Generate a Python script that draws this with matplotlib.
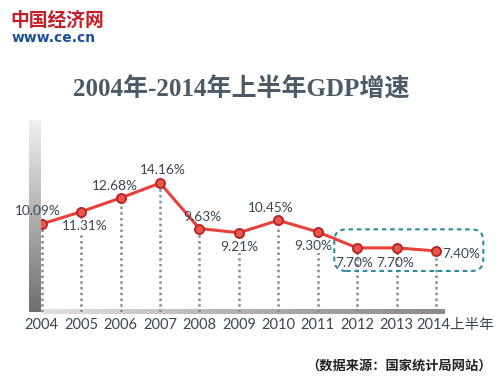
import numpy as np
import matplotlib
matplotlib.use("Agg")
import matplotlib.pyplot as plt
import matplotlib.transforms as mtrans
from matplotlib.patches import FancyBboxPatch
from matplotlib.colors import LinearSegmentedColormap

# ---- data ----
years = ["2004", "2005", "2006", "2007", "2008", "2009", "2010", "2011", "2012", "2013", "2014上半年"]
growth = [10.09, 11.31, 12.68, 14.16, 9.63, 9.21, 10.45, 9.30, 7.70, 7.70, 7.40]
value_labels = ["10.09%", "11.31%", "12.68%", "14.16%", "9.63%", "9.21%", "10.45%", "9.30%", "7.70%", "7.70%", "7.40%"]
title = "2004年-2014年上半年GDP增速"
source = "（数据来源：国家统计局网站）"

# ---- layout (pixel offsets for value labels) ----
label_offsets = [(-4, 13), (4, -14), (-6, 12), (3, 13), (3, 12), (0, -14),
                 (-7, 12), (-4, -14), (-3, -15), (-1, -15), (6, -3)]
label_ha = ["center"] * 10 + ["left"]
label_bg = [False, True, False, False, False, True, False, True, False, False, False]

W, H = 500, 380
fig = plt.figure(figsize=(W / 100, H / 100), dpi=100)
fig.patch.set_facecolor("white")

def fx(px):
    return px / W

def fy(py):
    return 1 - py / H

CJK = ["Lato", "Noto Sans CJK SC", "DejaVu Sans"]
TXT = "#3b4650"

# gradient bars (axis decoration), drawn beneath the plot
vax = fig.add_axes([fx(29), fy(312), fx(41) - fx(29), fy(120) - fy(312)])
vax.set_zorder(0)
grad_v = np.linspace(0, 1, 256).reshape(-1, 1)
cmap_v = LinearSegmentedColormap.from_list("v", ["#f0f0f0", "#b0b0b0", "#6e6e6e"])
vax.imshow(grad_v, aspect="auto", cmap=cmap_v, origin="upper")
vax.axis("off")

hax = fig.add_axes([fx(41), fy(314), fx(445) - fx(41), fy(309) - fy(314)])
hax.set_zorder(0)
grad_h = np.linspace(0, 1, 256).reshape(1, -1)
cmap_h = LinearSegmentedColormap.from_list("h", ["#e2e2e2", "#b0b0b0", "#8a8a8a"])
hax.imshow(grad_h, aspect="auto", cmap=cmap_h)
hax.axis("off")

# main axes: from x=41px to 490px, y from 120px to 312px
ax = fig.add_axes([fx(41), fy(312), fx(490) - fx(41), fy(120) - fy(312)])
ax.set_zorder(2)
ax.set_facecolor("none")
x = np.arange(len(years))
ax.set_xlim(-0.02, 11.37)
ax.set_ylim(1.31, 20.45)
for s in ax.spines.values():
    s.set_visible(False)
ax.set_yticks([])
ax.set_xticks(x)
ax.set_xticklabels(years, fontsize=10.5, color=TXT)
for lab in ax.get_xticklabels():
    lab.set_fontfamily(CJK)
ax.tick_params(axis="x", length=0, pad=4)
last = ax.get_xticklabels()[-1]
last.set_horizontalalignment("left")
last.set_transform(last.get_transform() + mtrans.ScaledTranslation(-20 / 100, 0, fig.dpi_scale_trans))

# dotted drop lines
ax.vlines(x, ax.get_ylim()[0], growth, colors="#8a8a8a", linestyles=(0, (1, 1.3)), lw=1.8, zorder=1)

# line + markers
ax.plot(x, growth, color="#e8403a", lw=2.2, zorder=3, solid_capstyle="round")
ax.plot(x, growth, "o", ms=6.5, mfc="#e8584a", mec="#b8262a", mew=1.4, zorder=4)

for xi, yi, lab, (dx, dy), ha, bg in zip(x, growth, value_labels, label_offsets, label_ha, label_bg):
    ax.annotate(lab, (xi, yi), xytext=(dx, dy), textcoords="offset pixels",
                ha=ha, va="center", fontsize=9.8, color=TXT, family="Lato", zorder=5,
                bbox=dict(boxstyle="square,pad=0.05", fc="white", ec="none") if bg else None)

# dashed highlight box around the last three points
px_per_x = 39.5
px_per_y = 10.03
box = FancyBboxPatch((x[8] - 0.58, 5.4), 2 + 0.58 + 1.2, 9.55 - 5.4,
                     boxstyle="round,pad=0,rounding_size=0.3",
                     mutation_aspect=px_per_x / px_per_y,
                     fill=False, ec="#2b8ba3", lw=1.5, ls=(0, (2.2, 1.8)), zorder=2)
ax.add_patch(box)

# title
fig.text(fx(241), fy(90), title, ha="center", va="center", fontsize=18,
         fontweight="bold", color="#4b5a64",
         family=["Liberation Serif", "Noto Sans CJK SC", "DejaVu Sans"])

# logo
fig.text(fx(10), fy(20), "中国经济网", ha="left", va="center", fontsize=13.5,
         fontweight="bold", color="#c41f28", family=["Noto Sans CJK SC", "DejaVu Sans"])
fig.text(fx(12), fy(38), "www.ce.cn", ha="left", va="center", fontsize=10,
         fontweight="bold", color="#1d4f9c", family="DejaVu Sans")

# source
fig.text(fx(492), fy(366), source, ha="right", va="center", fontsize=9.5,
         fontweight="bold", color="#222222", family=["Noto Sans CJK SC", "DejaVu Sans"])

fig.savefig("out.png", dpi=100)
